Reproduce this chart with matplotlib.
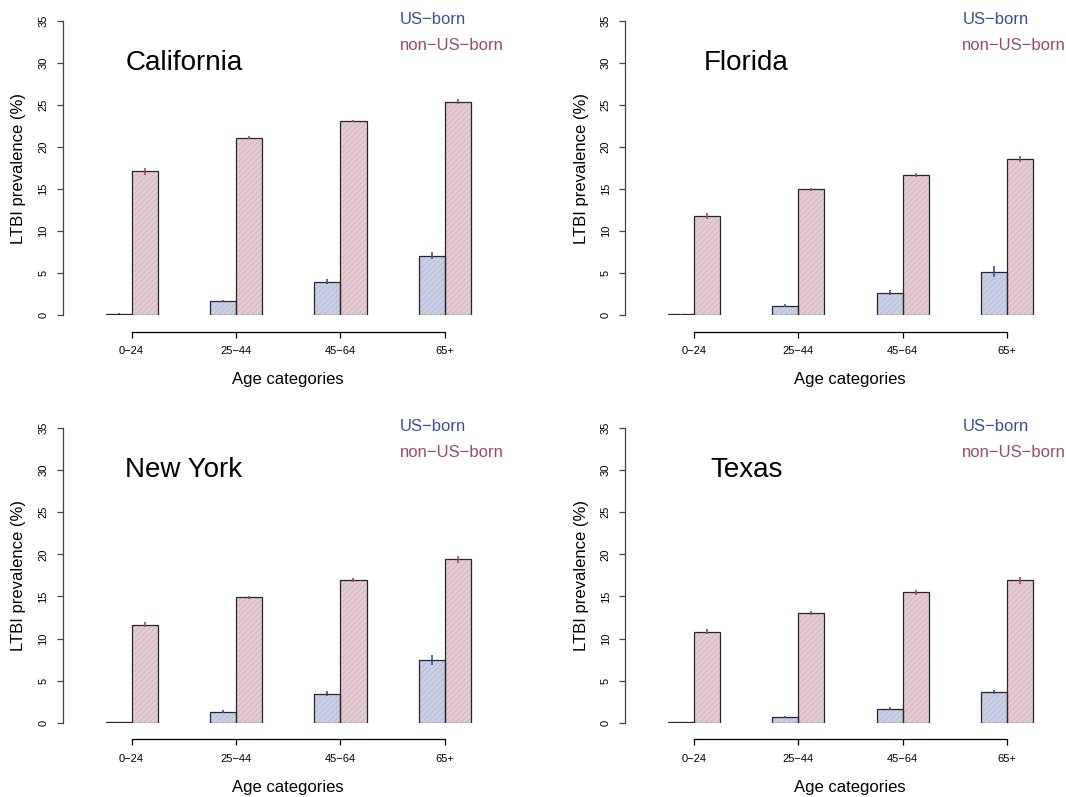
import matplotlib
matplotlib.use("Agg")
import matplotlib.pyplot as plt
import numpy as np

plt.rcParams['font.family'] = ['Liberation Sans', 'DejaVu Sans']
plt.rcParams['hatch.linewidth'] = 0.4

states = ['California', 'Florida', 'New York', 'Texas']
age_groups = ['0\u221224', '25\u221244', '45\u221264', '65+']

us_born = {
    'California': [0.2, 1.7, 4.0, 7.1],
    'Florida': [0.1, 1.15, 2.7, 5.2],
    'New York': [0.05, 1.3, 3.45, 7.5],
    'Texas': [0.05, 0.65, 1.65, 3.65],
}
us_born_err = {
    'California': [0.05, 0.1, 0.3, 0.4],
    'Florida': [0.03, 0.2, 0.3, 0.6],
    'New York': [0.02, 0.2, 0.3, 0.6],
    'Texas': [0.02, 0.1, 0.2, 0.25],
}
non_us_born = {
    'California': [17.1, 21.1, 23.1, 25.4],
    'Florida': [11.8, 14.95, 16.65, 18.55],
    'New York': [11.65, 14.9, 17.0, 19.4],
    'Texas': [10.8, 13.05, 15.5, 16.9],
}
non_us_born_err = {
    'California': [0.4, 0.2, 0.15, 0.3],
    'Florida': [0.35, 0.15, 0.25, 0.35],
    'New York': [0.3, 0.2, 0.25, 0.4],
    'Texas': [0.3, 0.2, 0.3, 0.4],
}

blue_fill = '#c8cfe4'
pink_fill = '#e2cbd1'
blue_hatch = '#aab5d3'
pink_hatch = '#cfaab4'
blue_text = '#3a4f9c'
pink_text = '#9b4a66'
edge = '#262626'

W, H = 1066, 797
fig = plt.figure(figsize=(W / 100, H / 100), dpi=100)

ax_w = 447.3
ax_h = 294.6
lefts = [62.7, 625.0]
zeros = [315.3, 722.7]
unit = 26.1
x0 = 0.36

for k, state in enumerate(states):
    col = k % 2
    row = k // 2
    ax = fig.add_axes([lefts[col] / W, (H - zeros[row]) / H, ax_w / W, ax_h / H])
    ax.set_xlim(x0, x0 + ax_w / unit)
    ax.set_ylim(0, 35)

    centers = 4 * np.arange(len(age_groups)) + 3
    us = us_born[state]
    nus = non_us_born[state]

    # fill, then hatch layer, then outline
    ax.bar(centers - 0.5, us, width=1, color=blue_fill, linewidth=0, zorder=2)
    ax.bar(centers + 0.5, nus, width=1, color=pink_fill, linewidth=0, zorder=2)
    ax.bar(centers - 0.5, us, width=1, facecolor='none', edgecolor=blue_hatch, linewidth=0, hatch='//////', zorder=2.5)
    ax.bar(centers + 0.5, nus, width=1, facecolor='none', edgecolor=pink_hatch, linewidth=0, hatch='//////', zorder=2.5)
    ax.bar(centers - 0.5, us, width=1, facecolor='none', edgecolor=edge, linewidth=0.9, zorder=2.6)
    ax.bar(centers + 0.5, nus, width=1, facecolor='none', edgecolor=edge, linewidth=0.9, zorder=2.6)

    ax.errorbar(centers - 0.5, us, yerr=us_born_err[state], fmt='none', ecolor=blue_text, elinewidth=1.2, capsize=0, zorder=3)
    ax.errorbar(centers + 0.5, nus, yerr=non_us_born_err[state], fmt='none', ecolor=pink_text, elinewidth=1.2, capsize=0, zorder=3)

    for s in ['top', 'right']:
        ax.spines[s].set_visible(False)
    ax.spines['left'].set_color('#444444')
    ax.spines['left'].set_linewidth(0.9)
    ax.spines['bottom'].set_position(('outward', 12))
    ax.spines['bottom'].set_bounds(centers[0], centers[-1])
    ax.spines['bottom'].set_linewidth(0.9)

    ax.set_yticks(np.arange(0, 36, 5))
    ax.set_yticklabels([str(v) for v in range(0, 36, 5)], rotation=90, va='center')
    ax.set_xticks(centers)
    ax.set_xticklabels(age_groups)
    ax.tick_params(axis='y', length=4.3, width=0.9, color='#444444', labelsize=8, pad=6)
    ax.tick_params(axis='x', length=4.3, width=0.9, labelsize=8, pad=6)

    ax.text((19 - 62.7) / ax_w, 0.5, 'LTBI prevalence (%)', transform=ax.transAxes,
            rotation=90, ha='center', va='center', fontsize=12)
    ax.text((288 - 62.7) / ax_w, (315.3 - 380) / ax_h, 'Age categories', transform=ax.transAxes,
            ha='center', va='center', fontsize=12)

    ax.text((184 - 62.7) / ax_w, (315.3 - 63) / ax_h, state, transform=ax.transAxes,
            ha='center', va='center', fontsize=20)
    ax.text((400 - 62.7) / ax_w, (315.3 - 19) / ax_h, 'US\u2212born', transform=ax.transAxes,
            ha='left', va='center', fontsize=12, color=blue_text)
    ax.text((400 - 62.7) / ax_w, (315.3 - 45) / ax_h, 'non\u2212US\u2212born', transform=ax.transAxes,
            ha='left', va='center', fontsize=12, color=pink_text)

fig.savefig('out.png', dpi=100)
